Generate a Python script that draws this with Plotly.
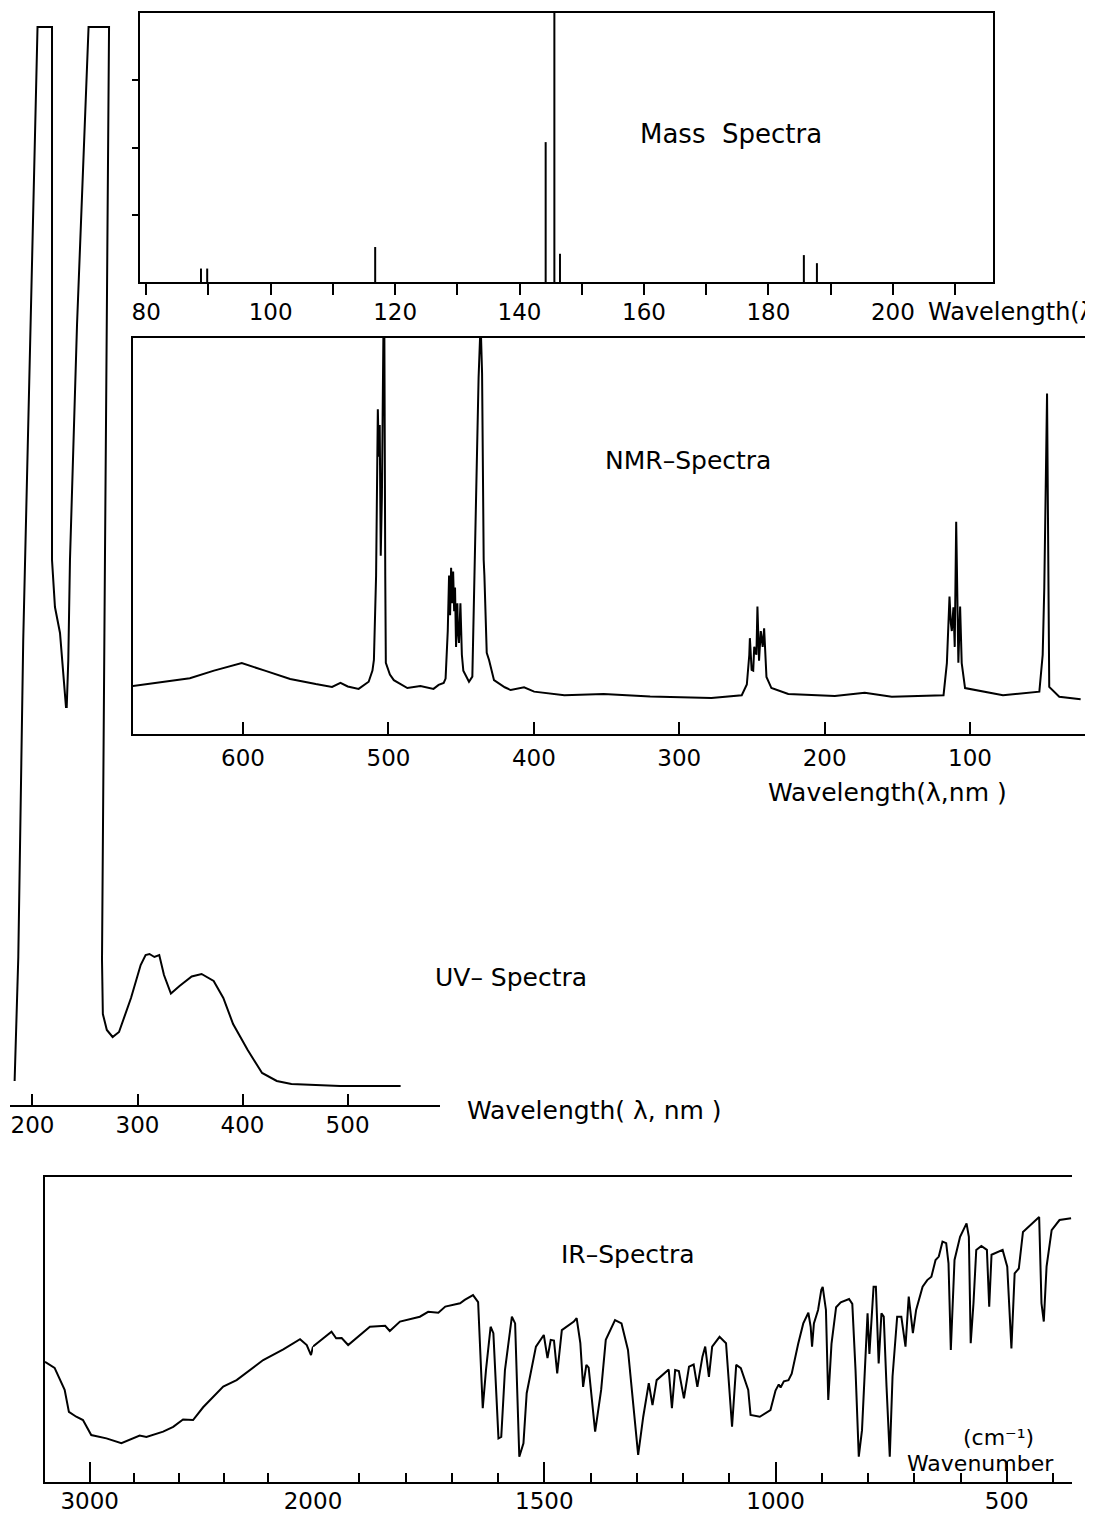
import plotly.graph_objects as go

W, H = 1093, 1522
OFF = 8  # page body margin of the browser shifts the figure by this many pixels

# ---------------- Mass spectra ----------------
mass_mz = [88.8, 89.8, 116.8, 144.2, 145.6, 146.5, 185.7, 187.8]
mass_int = [5, 5, 13, 52, 100, 10.5, 10, 7]
mass_ticks = [80, 100, 120, 140, 160, 180, 200]

# ---------------- NMR spectra ----------------
nmr_wl = [676, 650, 636.6, 620, 600.9, 585, 567.6, 550, 538.8, 533, 528, 520.5, 513.6, 511,
          510, 508.5, 507.3, 506.6, 506, 505.3, 504.5, 503.5, 502.8, 502.2, 501.8, 499, 496.3,
          487, 478, 469, 465.5, 462, 460.7, 459.2, 458.3, 457.6, 456.9, 456.2, 455.5, 454.8,
          454.2, 453.5, 452.6, 452.3, 451.5, 450.5, 449.5, 448.5, 444.6, 442.3, 440, 438, 437,
          436.3, 435.6, 435, 434.5, 434, 433.3, 432.4, 430.8, 427.4, 420, 415.9, 406.7, 399.8,
          379, 352, 320, 277.9, 257, 253.5, 251.8, 251.4, 250.2, 249.1, 248.4, 246.9, 246.2,
          245.1, 243.9, 242.6, 241.6, 240, 236.6, 225, 193, 172.4, 153.8, 118.2, 115.9, 114.1,
          113.2, 112.5, 111.4, 110.5, 109.5, 108.6, 108, 106.8, 105.7, 103.4, 77.3, 52.3, 50,
          48.9, 47, 45.5, 38.6, 23.9]
nmr_int = [12.1, 13.4, 14.1, 16, 17.9, 16, 13.9, 12.6, 11.9, 12.9, 12, 11.4, 13.2, 16,
           18.7, 40, 82, 70, 78, 45, 60, 100, 100, 40, 18, 15, 13.6,
           11.6, 12.1, 11.4, 12.4, 12.9, 14, 26, 40, 30, 42, 33, 41, 31,
           37, 22, 33, 27, 23, 33, 20, 16, 13.2, 14.5, 58, 90, 100,
           100, 91, 60, 44, 40, 33, 20.5, 18.7, 13.6, 11.8, 11.1, 11.8, 10.7,
           9.8, 10.1, 9.5, 9.1, 9.8, 12.5, 20, 24.2, 16.2, 16, 22, 20, 32.2,
           18.5, 26, 22, 26.7, 14.4, 11.6, 10.1, 9.6, 10.4, 9.4, 9.8, 17.9, 34.7,
           28, 26, 32, 22, 53.6, 30, 18, 32.2, 17.9, 11.6, 9.8, 10.7, 20,
           37, 86, 11.9, 9.4, 8.8]
nmr_ticks = [600, 500, 400, 300, 200, 100]

# ---------------- UV spectra ----------------
uv_wl = [183, 186.5, 191.2, 198, 204.8, 218.6, 218.6, 221.4, 226.2, 231.9, 232.6, 234.1, 235.7,
         242.4, 253.4, 272.9, 271, 269, 266.2, 267, 270.8, 276.3, 282.4, 293.8, 303, 307.7,
         311.4, 316.1, 320.7, 325.2, 331.8, 340, 351.6, 361, 372.5, 381.7, 391, 404.9, 418.6,
         432.6, 446.5, 492.9, 550.5]
uv_abs = [0.024, 0.148, 0.465, 0.78, 1.078, 1.078, 0.545, 0.498, 0.472, 0.398, 0.398, 0.445,
          0.545, 0.78, 1.078, 1.078, 0.775, 0.545, 0.145, 0.091, 0.075, 0.068, 0.073, 0.107,
          0.14, 0.150, 0.151, 0.148, 0.150, 0.13, 0.1115, 0.119, 0.1285, 0.131, 0.124, 0.107,
          0.081, 0.055, 0.032, 0.024, 0.021, 0.019, 0.019]
uv_ticks = [200, 300, 400, 500]

# ---------------- IR spectra ----------------
ir_wn = [3200, 3157, 3112, 3093, 3060, 3030, 2993, 2925, 2858, 2776, 2746, 2671, 2626, 2582,
         2537, 2492, 2402, 2342, 2223, 2133, 2058, 2028, 2009, 2000,
         1960, 1950, 1938, 1924, 1898, 1877, 1844, 1834, 1812, 1769, 1751, 1729, 1714, 1682,
         1672, 1654, 1643, 1633, 1626, 1616, 1610, 1599, 1593, 1585, 1570, 1563, 1554, 1545,
         1538, 1518, 1501, 1493, 1486, 1479, 1472, 1462, 1436, 1430, 1422, 1416, 1409, 1404,
         1390, 1377, 1367, 1347, 1333, 1319, 1297, 1286, 1274, 1266, 1257, 1231, 1224, 1217,
         1209, 1198, 1187, 1177, 1169, 1158, 1152, 1144, 1137, 1121, 1107, 1094, 1085, 1075,
         1059, 1054, 1034, 1011, 1000, 993, 989, 982, 972, 965, 951, 940, 929, 924, 921, 917,
         908, 901, 898, 891, 886, 879, 869, 859, 841, 834, 827, 820, 813, 806, 801, 797, 793,
         788, 783, 777, 771, 766, 760, 753, 747, 737, 728, 719, 712, 703, 696, 682, 672, 663,
         654, 647, 639, 631, 626, 621, 613, 601, 587, 582, 578, 572, 566, 555, 543, 538, 533,
         509, 499, 490, 483, 474, 465, 442, 430, 425, 420, 414, 403, 386, 361]
ir_T = [39.4, 37.4, 30.2, 23, 21.4, 20.3, 15.4, 14.3, 12.7, 15.2, 14.8, 16.5, 18.1, 20.5,
        20.3, 24.5, 31.3, 33.4, 40, 43.5, 46.8, 44.9, 41.6, 44.4,
        49.3, 47.1, 47.2, 44.9, 48.2, 50.9, 51.2, 49.5, 52.6, 54.2, 55.8, 55.5, 57.5, 58.6,
        59.7, 61.3, 59, 24.2, 36.7, 50.9, 48.8, 14.3, 14.8, 36.7, 54.2, 52, 8.3, 12.7,
        29.1, 44.4, 48.2, 40.6, 46.6, 46.4, 35.6, 49.8, 52.6, 53.7, 45.5, 31.2, 38.4, 37.5,
        16.5, 30.2, 46.6, 53.1, 52, 43.3, 8.9, 21.4, 32.4, 25.2, 33.4, 36.9, 24.2, 36.7,
        36.4, 27.4, 37.8, 38.5, 31.2, 41.1, 44.4, 34.5, 44.4, 47.6, 45.5, 18.1, 38.4, 37.3,
        30.2, 22, 21.4, 23.6, 30, 32, 31, 33, 33.4, 35.5, 45.3, 52, 55.5, 50.9, 44.4, 52,
        56.4, 63, 64, 56.4, 26.9, 45.3, 57.3, 58.9, 60, 58.4, 36.6, 8.3, 17, 42, 55.3, 42, 50.9,
        64, 64, 38.9, 55.3, 54.2, 31.3, 8.3, 34.6, 54.2, 54.2, 44.4, 60.8, 48.8, 56.4, 64, 66.2,
        67.3, 72.8, 73.9, 78.8, 78.3, 71.7, 43.3, 72.8, 80.4, 84.8, 80.4, 45.5, 58.6, 76.1, 77.4,
        76.1, 57.5, 74.5, 76.1, 70.6, 43.8, 68.4, 70, 82, 85.2, 86.9, 58.6, 52.6, 70.6, 82.6,
        85.9, 86.5]
ir_hi_ticks = [3000]
ir_lo_ticks = [2000, 1500, 1000, 500]

# ---------------- helpers ----------------
def xd(a, b):
    return [(a - OFF) / W, (b - OFF) / W]

def yd(top, bottom):
    return [1 - (bottom - OFF) / H, 1 - (top - OFF) / H]

FONT = "DejaVu Sans"
LINE = dict(color="black", width=2)
TICKFONT = dict(family=FONT, size=23, color="black")

fig = go.Figure()

# mass sticks
mx, my = [], []
for m, h in zip(mass_mz, mass_int):
    mx += [m, m, None]
    my += [0, h, None]
fig.add_trace(go.Scatter(x=mx, y=my, mode="lines", line=LINE, xaxis="x", yaxis="y",
                         showlegend=False, hoverinfo="skip"))

fig.add_trace(go.Scatter(x=nmr_wl, y=nmr_int, mode="lines", line=LINE, xaxis="x2", yaxis="y2",
                         showlegend=False))

fig.add_trace(go.Scatter(x=uv_wl, y=uv_abs, mode="lines", line=LINE, xaxis="x3", yaxis="y3",
                         showlegend=False))

hi_x = [w for w in ir_wn if w >= 2000]
hi_y = [t for w, t in zip(ir_wn, ir_T) if w >= 2000]
lo_x = [w for w in ir_wn if w <= 2000]
lo_y = [t for w, t in zip(ir_wn, ir_T) if w <= 2000]
fig.add_trace(go.Scatter(x=hi_x, y=hi_y, mode="lines", line=LINE, xaxis="x4", yaxis="y4",
                         showlegend=False))
fig.add_trace(go.Scatter(x=lo_x, y=lo_y, mode="lines", line=LINE, xaxis="x5", yaxis="y4",
                         showlegend=False))

common = dict(showgrid=False, zeroline=False, linecolor="black", tickcolor="black",
              tickfont=TICKFONT)

layout = dict(
    width=W, height=H, autosize=False,
    margin=dict(l=0, r=0, t=0, b=0, pad=0, autoexpand=False),
    paper_bgcolor="white", plot_bgcolor="rgba(0,0,0,0)",
    font=dict(family=FONT, color="black", size=22),
    showlegend=False,
    # Mass
    xaxis=dict(domain=xd(140, 993), range=[79, 216.1], anchor="y", showline=True, linewidth=2,
               mirror=True, ticks="outside", ticklen=11, tickwidth=1.5,
               tickvals=mass_ticks, ticklabelstandoff=-3,
               minor=dict(ticks="outside", ticklen=11, tickwidth=1.5, tick0=80, dtick=10,
                          tickcolor="black", showgrid=False),
               **common),
    yaxis=dict(domain=yd(13, 282), range=[0, 100], anchor="x", showline=True, linewidth=2,
               mirror=True, ticks="outside", ticklen=6, tickwidth=1.5,
               tickvals=[25, 50, 75], showticklabels=False, **common),
    # NMR
    xaxis2=dict(domain=xd(133, 1085), range=[675.7, 20.9], anchor="y2", showline=True,
                linewidth=2, mirror=True, ticks="inside", ticklen=12, tickwidth=1.5,
                tickvals=nmr_ticks, ticklabelstandoff=2, **common),
    yaxis2=dict(domain=yd(338, 734), range=[0, 100], anchor="x2", showline=True, linewidth=2,
                mirror=False, ticks="", showticklabels=False, **common),
    # UV
    xaxis3=dict(domain=xd(10, 440), range=[178.6, 588], anchor="y3", showline=True,
                linewidth=2, ticks="inside", ticklen=11, tickwidth=1.5,
                tickvals=uv_ticks, ticklabelstandoff=-2, **common),
    yaxis3=dict(domain=yd(25, 1105), range=[0, 1.08], anchor="x3", visible=False, **common),
    # IR
    xaxis4=dict(domain=xd(45, 313), range=[3200, 2000], anchor="y4", showline=True,
                linewidth=2, mirror=True, ticks="inside", ticklen=20, tickwidth=1.5,
                tickvals=ir_hi_ticks, ticklabelstandoff=-3,
                minor=dict(ticks="inside", ticklen=9, tickwidth=1.5, tick0=2000, dtick=200,
                           tickcolor="black", showgrid=False),
                **common),
    xaxis5=dict(domain=xd(313, 1072), range=[2000, 359], anchor="y4", showline=True,
                linewidth=2, mirror=True, ticks="inside", ticklen=20, tickwidth=1.5,
                tickvals=ir_lo_ticks, ticklabelstandoff=-3,
                minor=dict(ticks="inside", ticklen=9, tickwidth=1.5, tick0=2000, dtick=100,
                           tickcolor="black", showgrid=False),
                **common),
    yaxis4=dict(domain=yd(1177, 1482), range=[0, 100], anchor="x4", showline=True,
                linewidth=2, ticks="", showticklabels=False, **common),
)
fig.update_layout(**layout)

def note(text, x, y, size=24, xanchor="center"):
    fig.add_annotation(text=text, x=(x - OFF) / W, y=1 - (y - OFF) / H,
                       xref="paper", yref="paper",
                       xanchor=xanchor, yanchor="middle", showarrow=False,
                       font=dict(family=FONT, size=size, color="black"))

note("Mass  Spectra", 731, 134, 26)
note("Wavelength(λ", 926, 312, 24, xanchor="left")
note("NMR–Spectra", 688, 460, 25)
note("Wavelength(λ,nm )", 888, 792, 25)
note("UV– Spectra", 511, 977, 25)
note("Wavelength( λ, nm )", 465, 1110, 25, xanchor="left")
note("IR–Spectra", 628, 1254, 25)
note("(cm⁻¹)", 998, 1437, 22)
note("Wavenumber", 980, 1463, 22)

fig.write_html("out.html")
